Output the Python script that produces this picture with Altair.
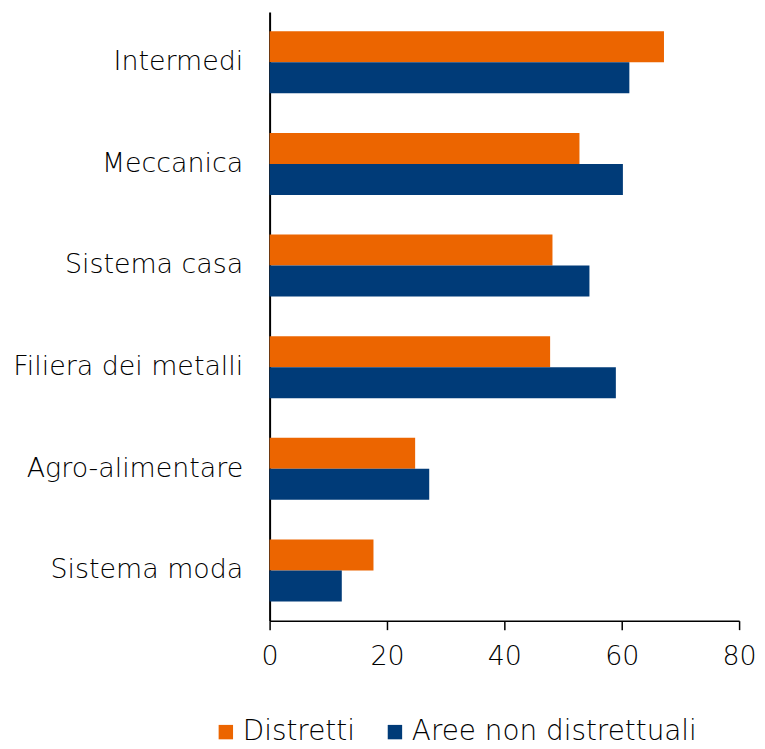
import altair as alt
import pandas as pd

categories = ["Intermedi", "Meccanica", "Sistema casa", "Filiera dei metalli", "Agro-alimentare", "Sistema moda"]
distretti = [67.2, 52.8, 48.2, 47.8, 24.8, 17.7]
aree_non_distrettuali = [61.3, 60.2, 54.5, 59.0, 27.2, 12.3]
series = ["Distretti", "Aree non distrettuali"]
colors = ["#EC6500", "#003B78"]

rows = []
for c, d, a in zip(categories, distretti, aree_non_distrettuali):
    rows.append({"cat": c, "serie": series[0], "val": d})
    rows.append({"cat": c, "serie": series[1], "val": a})
df = pd.DataFrame(rows)

FONT = "DejaVu Sans"
W = 300

chart = alt.Chart(df).mark_bar().encode(
    x=alt.X("val:Q", scale=alt.Scale(domain=[0, 80], nice=False),
            axis=alt.Axis(values=[0, 20, 40, 60, 80], grid=False, title=None,
                          domainColor="black", tickColor="black", tickSize=9,
                          labelFontSize=27, labelColor="black", labelPadding=14,
                          labelFont=FONT, labelFontWeight=W, labelFlush=False,
                          domainWidth=1.5, tickWidth=1.5)),
    y=alt.Y("cat:N", sort=categories,
            scale=alt.Scale(paddingInner=0.39, paddingOuter=0.19),
            axis=alt.Axis(title=None, ticks=False, domainColor="black", domainWidth=2,
                          labelFontSize=27, labelColor="black", labelPadding=27,
                          labelFont=FONT, labelFontWeight=W, labelLimit=400)),
    yOffset=alt.YOffset("serie:N", sort=series),
    color=alt.Color("serie:N", sort=series,
                    scale=alt.Scale(domain=series, range=colors),
                    legend=alt.Legend(title=None, orient="none", direction="horizontal",
                                      legendX=-58, legendY=710, padding=0,
                                      symbolType="square", symbolSize=210,
                                      symbolStrokeWidth=0, labelLimit=500,
                                      labelFontSize=28, labelColor="black", labelFont=FONT,
                                      labelFontWeight=W,
                                      columnPadding=26, labelOffset=3)),
).properties(
    width=472, height=612,
    padding={"left": 4, "top": 2, "right": 0, "bottom": 0}
).configure_view(strokeWidth=0, stroke="transparent")

chart.save("out.html", embed_options={"renderer": "svg", "actions": False})
